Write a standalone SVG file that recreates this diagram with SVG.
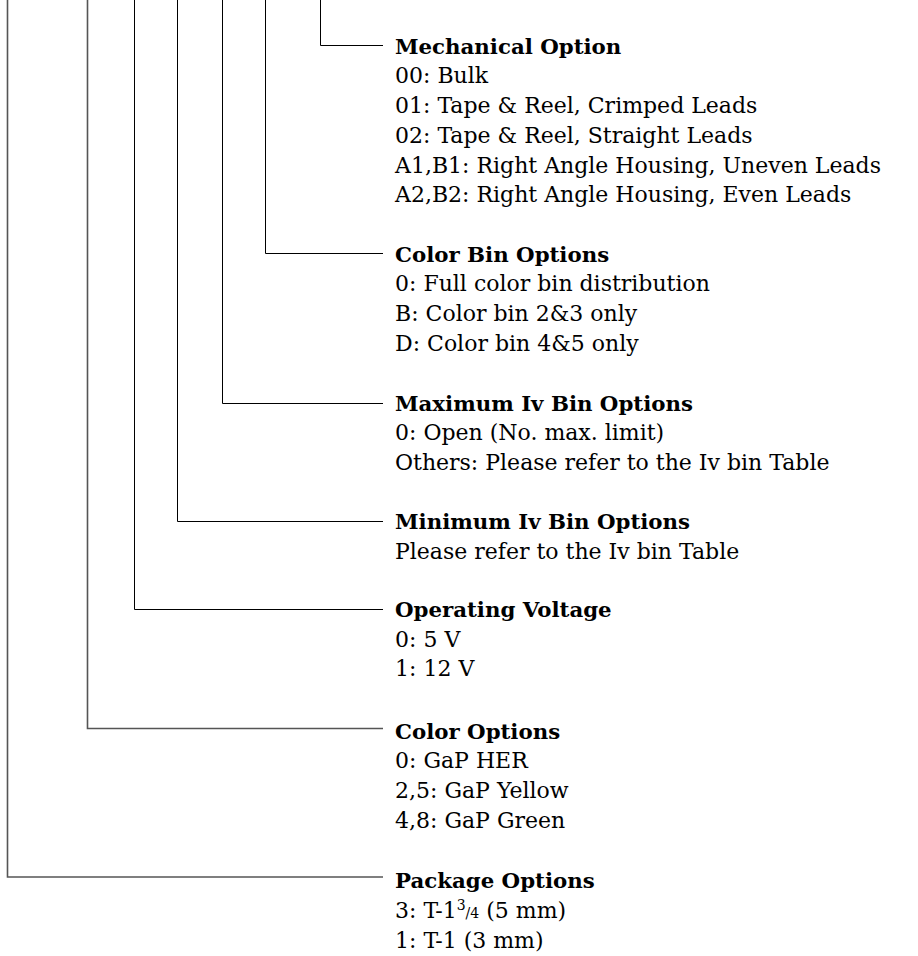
<svg xmlns="http://www.w3.org/2000/svg" width="918" height="956" viewBox="0 0 918 956">
<style>
  .t { font-family: "DejaVu Serif", "Liberation Serif", serif; font-size: 22px; fill: #000; }
  .h { font-weight: bold; font-size: 21.3px; }
  .c { fill: none; stroke: #000; stroke-width: 1; }
  .g { fill: none; stroke: #555; stroke-width: 1.6; }
  .sup { font-size: 14px; }
</style>
<rect width="918" height="956" fill="#fff"/>
<g id="connectors">
  <polyline class="c" points="320.5,0 320.5,45.5 383,45.5"/>
  <polyline class="c" points="265.5,0 265.5,253.5 383,253.5"/>
  <polyline class="c" points="222.5,0 222.5,403.5 383,403.5"/>
  <polyline class="c" points="177.5,0 177.5,521.5 383,521.5"/>
  <polyline class="c" points="134.5,0 134.5,609.5 383,609.5"/>
  <polyline class="g" points="87.5,0 87.5,728.5 383,728.5"/>
  <polyline class="g" points="7.5,0 7.5,877 383,877"/>
</g>
<g id="mechanical">
  <text class="t h" x="395" y="53.7">Mechanical Option</text>
  <text class="t" x="395" y="83.4">00: Bulk</text>
  <text class="t" x="395" y="113.1">01: Tape &amp; Reel, Crimped Leads</text>
  <text class="t" x="395" y="142.8">02: Tape &amp; Reel, Straight Leads</text>
  <text class="t" x="395" y="172.5">A1,B1: Right Angle Housing, Uneven Leads</text>
  <text class="t" x="395" y="202.2">A2,B2: Right Angle Housing, Even Leads</text>
</g>
<g id="colorbin">
  <text class="t h" x="395" y="261.6">Color Bin Options</text>
  <text class="t" x="395" y="291.3">0: Full color bin distribution</text>
  <text class="t" x="395" y="321">B: Color bin 2&amp;3 only</text>
  <text class="t" x="395" y="350.7">D: Color bin 4&amp;5 only</text>
</g>
<g id="maxiv">
  <text class="t h" x="395" y="411">Maximum Iv Bin Options</text>
  <text class="t" x="395" y="440.4">0: Open (No. max. limit)</text>
  <text class="t" x="395" y="470">Others: Please refer to the Iv bin Table</text>
</g>
<g id="miniv">
  <text class="t h" x="395" y="529.2">Minimum Iv Bin Options</text>
  <text class="t" x="395" y="558.8">Please refer to the Iv bin Table</text>
</g>
<g id="voltage">
  <text class="t h" x="395" y="617">Operating Voltage</text>
  <text class="t" x="395" y="646.5">0: 5 V</text>
  <text class="t" x="395" y="676.3">1: 12 V</text>
</g>
<g id="coloropt">
  <text class="t h" x="395" y="738.5">Color Options</text>
  <text class="t" x="395" y="768.3">0: GaP HER</text>
  <text class="t" x="395" y="798">2,5: GaP Yellow</text>
  <text class="t" x="395" y="828">4,8: GaP Green</text>
</g>
<g id="package">
  <text class="t h" x="395" y="887.5">Package Options</text>
  <text class="t" x="395" y="918">3: T-1<tspan class="sup" dy="-8">3</tspan><tspan class="sup" dy="8">/4</tspan> (5 mm)</text>
  <text class="t" x="395" y="947.5">1: T-1 (3 mm)</text>
</g>
</svg>
